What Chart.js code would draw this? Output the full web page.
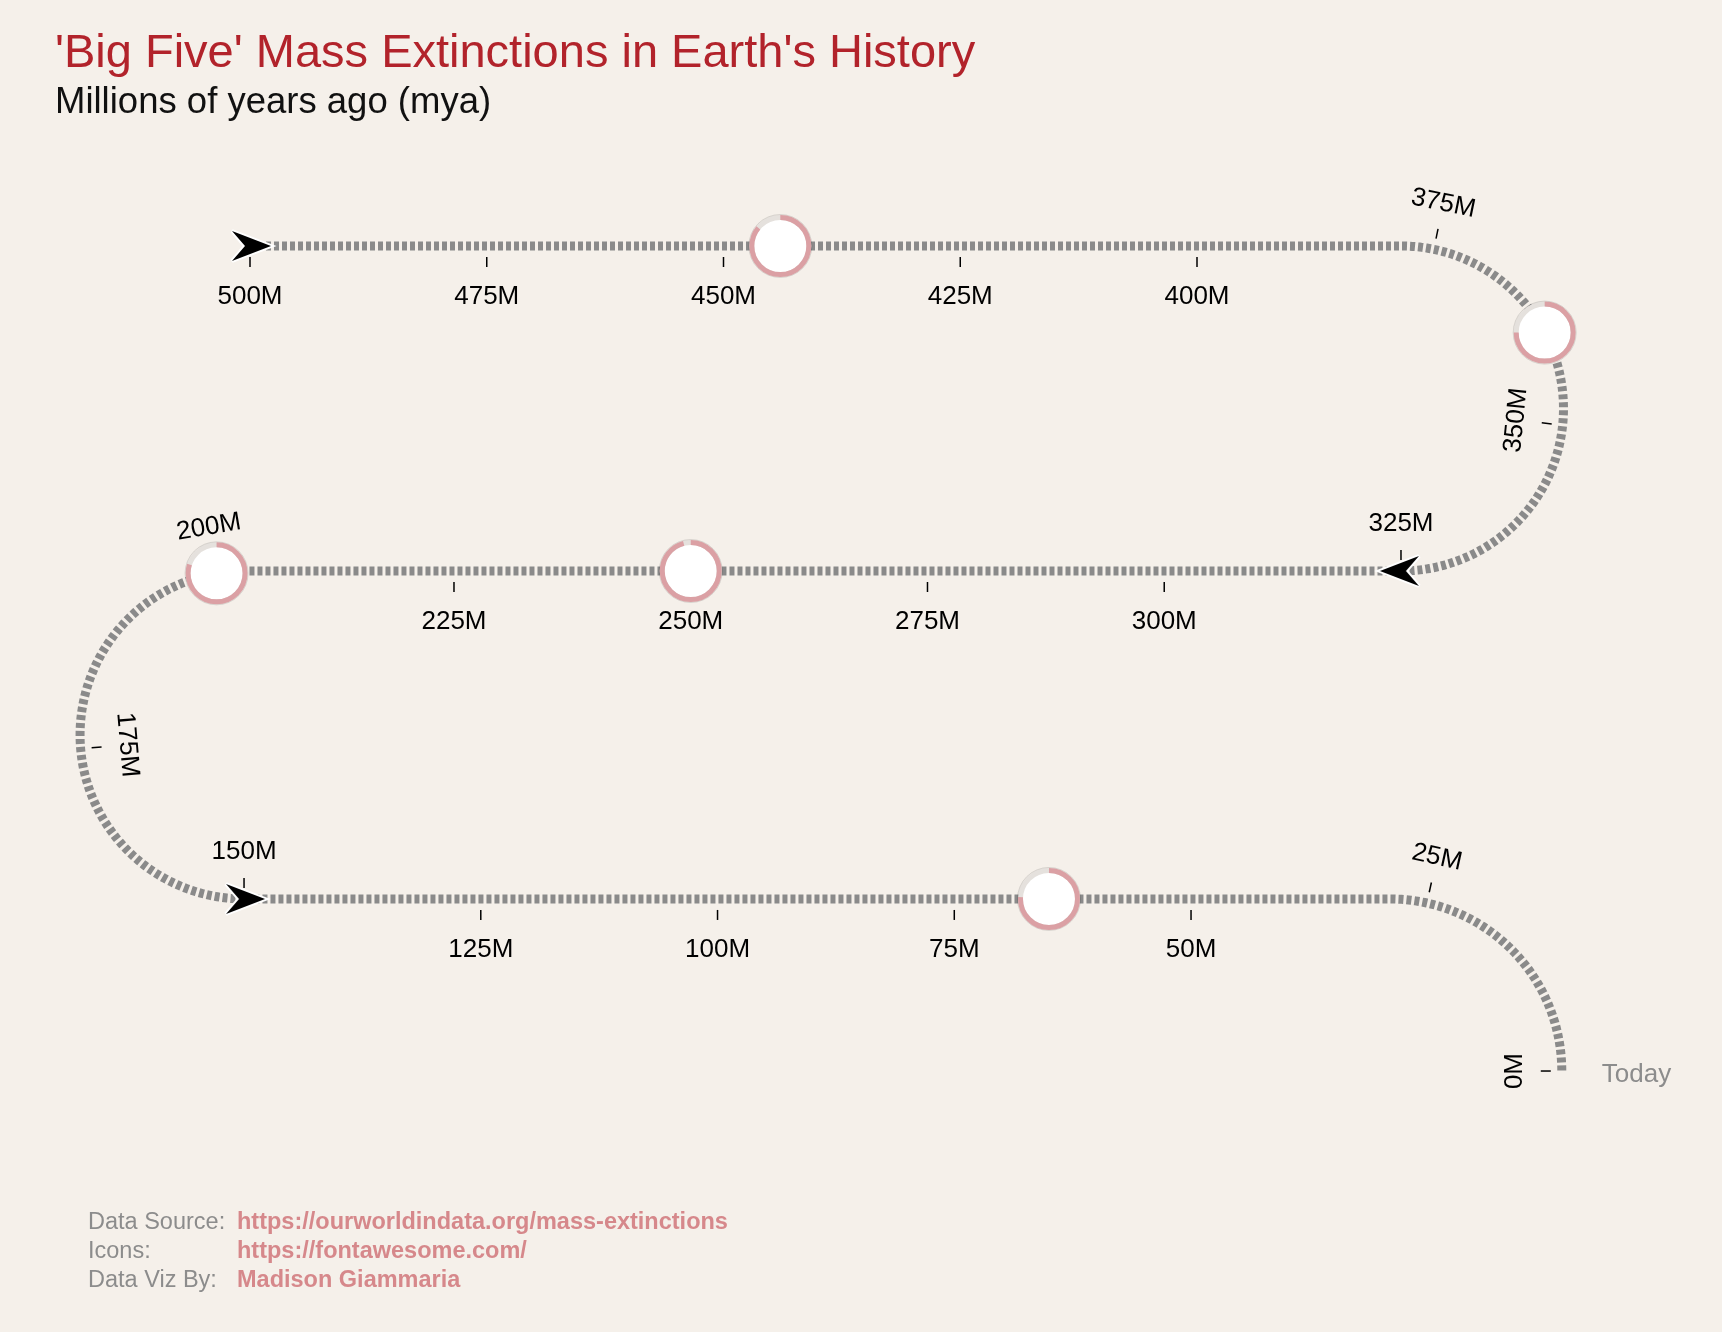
<!DOCTYPE html>
<html>
<head>
<meta charset="utf-8">
<title>Big Five Mass Extinctions</title>
<script src="https://cdn.jsdelivr.net/npm/chart.js@4.4.1/dist/chart.umd.min.js"></script>
<style>
  body { margin: 0; background: #f5f0ea; }
  #wrap { position: relative; width: 1722px; height: 1332px; font-family: "Liberation Sans", Arial, sans-serif; }
  #wrap canvas { position: absolute; left: 0; top: 0; }
  .txt { position: absolute; white-space: nowrap; line-height: 1; }
  .title { left: 55px; top: 27px; font-size: 47px; color: #b2232b; }
  .subtitle { left: 55px; top: 83px; font-size: 36.5px; color: #111; }
  .foot { font-size: 23.5px; color: #8c8c8c; left: 88px; }
  .foot b { position: absolute; left: 149px; color: #d6888b; }
</style>
</head>
<body>
<div id="wrap">
  <canvas id="timeline" width="1722" height="1332"></canvas>
  <div class="txt title">'Big Five' Mass Extinctions in Earth's History</div>
  <div class="txt subtitle">Millions of years ago (mya)</div>
  <div class="txt foot" style="top:1210px">Data Source:<b>https://ourworldindata.org/mass-extinctions</b></div>
  <div class="txt foot" style="top:1239px">Icons:<b>https://fontawesome.com/</b></div>
  <div class="txt foot" style="top:1268px">Data Viz By:<b>Madison Giammaria</b></div>
</div>
<script>
// datos de las extinciones (millones de años, % de especies perdidas)
const eventNames = ["End-Ordovician", "Late Devonian", "End-Permian", "End-Triassic", "End-Cretaceous"];
const eventMya = [444, 360, 250, 200, 65];
const eventLoss = [86, 75, 96, 80, 76];

// marcas del eje
const tickValues = [500, 475, 450, 425, 400, 375, 350, 325, 300, 275, 250, 225, 200, 175, 150, 125, 100, 75, 50, 25, 0];
const tickLabels = ["500M", "475M", "450M", "425M", "400M", "375M", "350M", "325M", "300M", "275M", "250M", "225M", "200M", "175M", "150M", "125M", "100M", "75M", "50M", "25M", "0M"];
const arrowMya = [500, 325, 150];

// geometria del camino en serpentina (unidades = millones de años)
const PX = 9.47;                       // pixeles por millon de años
const ROW_Y = [0, -34.32, -68.95];     // altura de cada fila
const X_RIGHT = 121.54, X_LEFT = -0.63, X_END = 120.35, R_END = 18.17;
const A1 = 500 - X_RIGHT;              // fin de la fila 1
const A2 = 325 - (X_RIGHT - X_LEFT);   // fin de la fila 2
const A3 = 150 - (X_END - X_LEFT);     // fin de la fila 3

function pathPosition(v) {
  if (v >= A1) return { x: 500 - v, y: ROW_Y[0], dx: 1, dy: 0, arc: null };
  if (v >= 325) {
    const f = (A1 - v) / (A1 - 325), t = f * Math.PI;
    const r = (ROW_Y[0] - ROW_Y[1]) / 2, cx = X_RIGHT, cy = (ROW_Y[0] + ROW_Y[1]) / 2;
    return { x: cx + r * Math.sin(t), y: cy + r * Math.cos(t), dx: Math.cos(t), dy: -Math.sin(t), arc: { cx, cy, f } };
  }
  if (v > A2) return { x: X_RIGHT - (325 - v), y: ROW_Y[1], dx: -1, dy: 0, arc: null };
  if (v >= 150) {
    const f = (A2 - v) / (A2 - 150), t = f * Math.PI;
    const r = (ROW_Y[1] - ROW_Y[2]) / 2, cx = X_LEFT, cy = (ROW_Y[1] + ROW_Y[2]) / 2;
    return { x: cx - r * Math.sin(t), y: cy + r * Math.cos(t), dx: -Math.cos(t), dy: -Math.sin(t), arc: { cx, cy, f } };
  }
  if (v > A3) return { x: X_LEFT + (150 - v), y: ROW_Y[2], dx: 1, dy: 0, arc: null };
  const f = (A3 - v) / A3, t = f * Math.PI / 2;
  const cx = X_END, cy = ROW_Y[2] - R_END;
  return { x: cx + R_END * Math.sin(t), y: cy + R_END * Math.cos(t), dx: Math.cos(t), dy: -Math.sin(t), arc: { cx, cy, f } };
}

const pathPoints = [];
for (let v = 500; v >= 0; v -= 0.25) {
  const p = pathPosition(v);
  pathPoints.push({ x: p.x, y: p.y });
}

function makeArrow() {
  const c = document.createElement("canvas");
  c.width = 60; c.height = 48;
  const g = c.getContext("2d");
  g.translate(30, 24);
  g.beginPath();
  g.moveTo(21, 0);
  g.lineTo(-18, -15);
  g.lineTo(-5, 0);
  g.lineTo(-18, 15);
  g.closePath();
  g.lineJoin = "miter";
  g.miterLimit = 3;
  g.lineWidth = 4;
  g.strokeStyle = "#fff";
  g.stroke();
  g.fillStyle = "#000";
  g.fill();
  return c;
}
const arrowImg = makeArrow();

function screenAngle(p) {
  // y del dato crece hacia arriba, en pantalla hacia abajo
  return Math.atan2(-p.dy, p.dx) * 180 / Math.PI;
}

const timelinePlugin = {
  id: "timeline",
  beforeDatasetsDraw(chart) {
    const ctx = chart.ctx;
    const xs = chart.scales.x, ys = chart.scales.y;
    ctx.save();
    ctx.font = "26px 'Liberation Sans', Arial, sans-serif";
    ctx.fillStyle = "#000";
    ctx.strokeStyle = "#000";
    ctx.lineWidth = 1.5;
    ctx.textAlign = "center";
    ctx.textBaseline = "alphabetic";
    tickValues.forEach((v, i) => {
      const p = pathPosition(v);
      const px = xs.getPixelForValue(p.x), py = ys.getPixelForValue(p.y);
      let nx = 0, ny = 1;
      if (p.arc) {
        const cx = xs.getPixelForValue(p.arc.cx), cy = ys.getPixelForValue(p.arc.cy);
        const d = Math.hypot(px - cx, py - cy);
        nx = (px - cx) / d; ny = (py - cy) / d;
        if (p.arc.f > 0.5) { nx = -nx; ny = -ny; }
      }
      ctx.beginPath();
      ctx.moveTo(px + nx * 11, py + ny * 11);
      ctx.lineTo(px + nx * 21, py + ny * 21);
      ctx.stroke();

      let a = screenAngle(p);
      while (a >= 90) a -= 180;
      while (a < -90) a += 180;
      ctx.save();
      ctx.translate(px + nx * 49, py + ny * 49);
      ctx.rotate(a * Math.PI / 180);
      ctx.fillText(tickLabels[i], 0, 9.4);
      ctx.restore();
    });

    // "Today" al final del camino
    const end = pathPosition(0);
    ctx.fillStyle = "#8c8c8c";
    ctx.textAlign = "left";
    ctx.fillText("Today", xs.getPixelForValue(end.x) + 40, ys.getPixelForValue(end.y) + 11);
    ctx.restore();
  },
  afterDatasetsDraw(chart) {
    const ctx = chart.ctx;
    const meta = chart.getDatasetMeta(0);
    ctx.save();
    meta.data.forEach((pt, i) => {
      ctx.beginPath();
      ctx.arc(pt.x, pt.y, 31.5, 0, Math.PI * 2);
      ctx.strokeStyle = "rgba(0,0,0,0.12)";
      ctx.lineWidth = 1;
      ctx.stroke();
      ctx.beginPath();
      ctx.arc(pt.x, pt.y, 28.5, -Math.PI / 2, -Math.PI / 2 + Math.PI * 2 * eventLoss[i] / 100);
      ctx.strokeStyle = "#dba0a4";
      ctx.lineWidth = 5;
      ctx.lineCap = "butt";
      ctx.stroke();
    });
    ctx.restore();
  }
};

const ctx = document.getElementById("timeline").getContext("2d");
window.miGrafica = new Chart(ctx, {
  type: "scatter",
  data: {
    datasets: [
      {
        label: "Extinctions",
        data: eventMya.map(v => { const p = pathPosition(v); return { x: p.x, y: p.y }; }),
        pointStyle: "circle",
        pointRadius: 28.5,
        pointHoverRadius: 28.5,
        pointBackgroundColor: "#fff",
        pointBorderColor: "#e5e1dd",
        pointBorderWidth: 5
      },
      {
        label: "Arrows",
        data: arrowMya.map(v => { const p = pathPosition(v); return { x: p.x, y: p.y }; }),
        pointStyle: arrowImg,
        rotation: c => screenAngle(pathPosition(arrowMya[c.dataIndex])),
        pointRadius: 20
      },
      {
        label: "Timeline",
        data: pathPoints,
        showLine: true,
        pointRadius: 0,
        borderColor: "#8a8a8a",
        borderWidth: 9,
        borderDash: [5, 3],
        borderCapStyle: "butt",
        tension: 0
      }
    ]
  },
  options: {
    responsive: false,
    animation: false,
    events: [],
    layout: { padding: 0, autoPadding: false },
    plugins: { legend: { display: false }, tooltip: { enabled: false } },
    scales: {
      x: { type: "linear", display: false, min: -250 / PX, max: (1722 - 250) / PX },
      y: { type: "linear", display: false, min: (246 - 1332) / PX, max: 246 / PX }
    }
  },
  plugins: [timelinePlugin]
});
</script>
</body>
</html>
